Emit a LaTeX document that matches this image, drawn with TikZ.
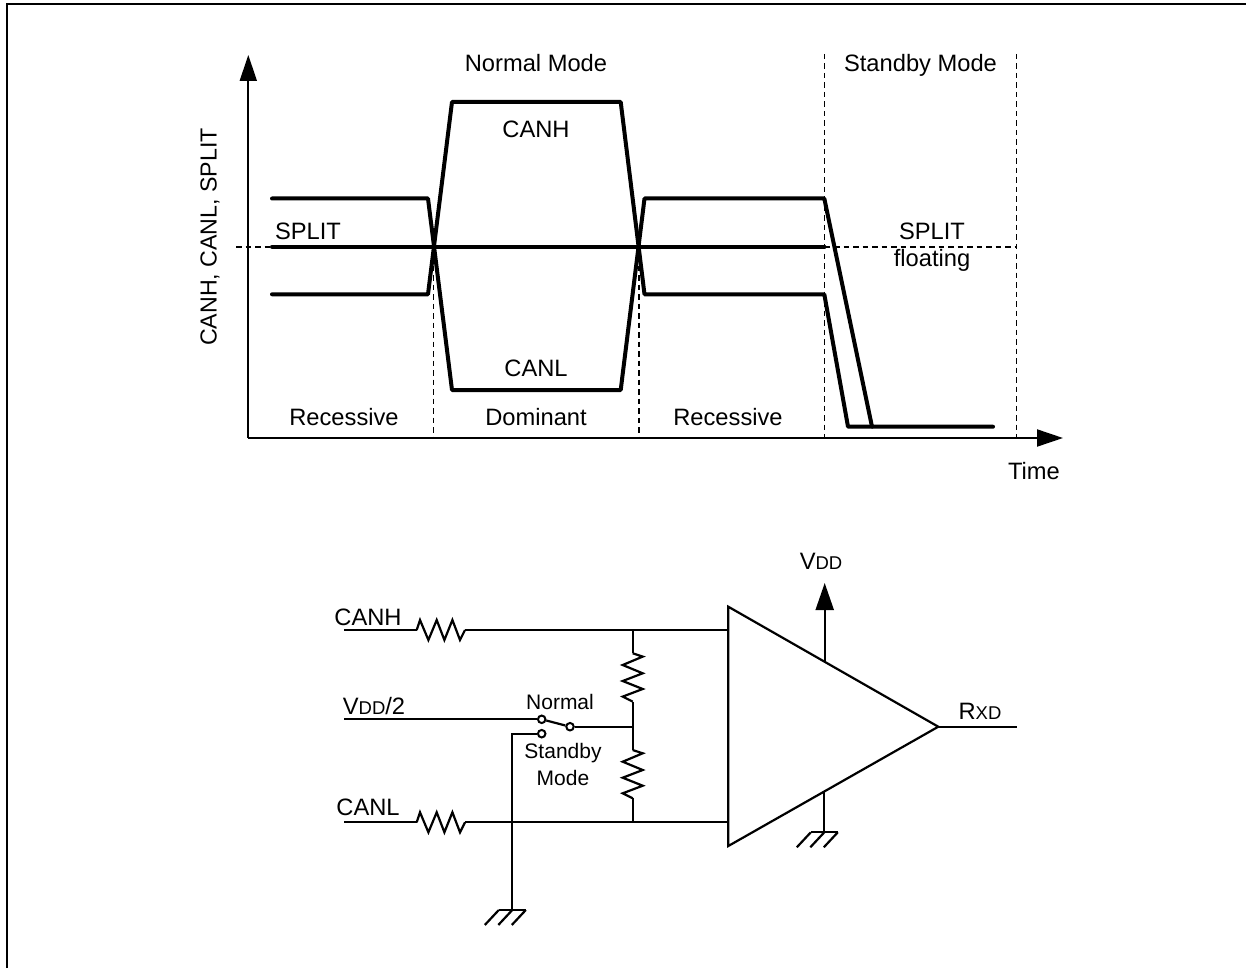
\documentclass[tikz,border=0pt]{standalone}
\usepackage{fontspec}
\setmainfont{Liberation Sans}
\usepackage{tikz}
\usetikzlibrary{arrows.meta}

\newcommand{\lbl}{\fontsize{23.7}{26}\selectfont}
\newcommand{\sml}{\fontsize{18.5}{20}\selectfont}
\newcommand{\swl}{\fontsize{21}{24}\selectfont}

\tikzset{
	txt/.style={inner sep=0pt,font=\lbl},
	swtxt/.style={inner sep=0pt,font=\swl},
	trace/.style={line width=4pt,line join=round,line cap=round},
	wire/.style={line width=2.2pt,line join=miter},
	guide/.style={line width=1.9pt,dash pattern=on 5.5pt off 4pt},
	axis/.style={line width=2pt,-{Triangle[length=26pt,width=17pt]}},
	contact/.style={circle,draw,fill=white,line width=2pt,minimum size=7.5pt,inner sep=0pt},
	pics/res/.style={code={
		\draw[wire] (0,0) -- (3.3,-10) -- (11.7,10) -- (20,-10) -- (27.7,10) -- (35.7,-10) -- (43.3,10) -- (48.3,0);
	}},
	pics/gnd/.style={code={
		\draw[wire] (-13.5,0) -- (13.5,0);
		\draw[wire] (-13.5,0) -- ++(-14,15);
		\draw[wire] (0,0) -- ++(-14,15);
		\draw[wire] (13.5,0) -- ++(-14,15);
	}}
}

\begin{document}
\begin{tikzpicture}[x=1pt,y=-1pt]
   		\useasboundingbox (0,0) rectangle (1246,968);
   		\coordinate (f_a) at (7,968);
   		\coordinate (f_b) at (7,4.3);
   		\coordinate (f_c) at (1246,4.3);
   		\draw[line width=2pt] (f_a) -- (f_b) -- (f_c);

   		\coordinate (o) at (248.3,438);
   		\coordinate (y_top) at (248.3,55);
   		\coordinate (x_end) at (1063,438);
   		\draw[axis] (o) -- (y_top);
   		\draw[axis] (o) -- (x_end);

   		\coordinate (g_a) at (433.5,246.7);
   		\coordinate (g_b) at (433.5,438);
   		\coordinate (g_c) at (639,246.7);
   		\coordinate (g_d) at (639,438);
   		\coordinate (g_e) at (824.5,54);
   		\coordinate (g_f) at (824.5,438);
   		\coordinate (g_g) at (1016.5,54);
   		\coordinate (g_h) at (1016.5,438);
   		\draw[guide] (g_a) -- (g_b);
   		\draw[guide] (g_c) -- (g_d);
   		\draw[guide] (g_e) -- (g_f);
   		\draw[guide] (g_g) -- (g_h);

   		\coordinate (s_0) at (236,246.7);
   		\coordinate (s_1) at (272,246.7);
   		\coordinate (s_2) at (824.5,246.7);
   		\coordinate (s_3) at (1016.5,246.7);
   		\draw[guide] (s_0) -- (s_1);
   		\draw[trace] (s_1) -- (s_2);
   		\draw[guide] (s_2) -- (s_3);

   		\coordinate (h_0) at (272,198.5);
   		\coordinate (h_1) at (428,198.5);
   		\coordinate (h_2) at (452,390);
   		\coordinate (h_3) at (620.7,390);
   		\coordinate (h_4) at (644.5,198.5);
   		\coordinate (h_5) at (824.3,198.5);
   		\coordinate (h_6) at (872,426.7);
   		\coordinate (h_7) at (993,426.7);
   		\draw[trace] (h_0) -- (h_1) -- (h_2) -- (h_3) -- (h_4) -- (h_5) -- (h_6) -- (h_7);

   		\coordinate (l_0) at (272,294.3);
   		\coordinate (l_1) at (428,294.3);
   		\coordinate (l_2) at (452,102);
   		\coordinate (l_3) at (620.7,102);
   		\coordinate (l_4) at (644.5,294.3);
   		\coordinate (l_5) at (824.3,294.3);
   		\coordinate (l_6) at (848,426.7);
   		\draw[trace] (l_0) -- (l_1) -- (l_2) -- (l_3) -- (l_4) -- (l_5) -- (l_6) -- (h_6);

   		\node[txt] (t_normal) at (536,63) {Normal Mode};
   		\node[txt] (t_standby) at (920.5,65) {Standby Mode};
   		\node[txt] (t_canh) at (536,129) {CANH};
   		\node[txt] (t_canl) at (536,368) {CANL};
   		\node[txt] (t_split) at (308,231) {SPLIT};
   		\node[txt] (t_splitf) at (932,231) {SPLIT};
   		\node[txt] (t_float) at (932,260) {floating};
   		\node[txt] (t_rec_a) at (344,417) {Recessive};
   		\node[txt] (t_dom) at (536,417) {Dominant};
   		\node[txt] (t_rec_b) at (728,417) {Recessive};
   		\node[txt] (t_time) at (1034,471) {Time};
   		\node[txt,rotate=90,font=\fontsize{23.2}{26}\selectfont] (t_yaxis) at (210,237) {CANH, CANL, SPLIT};

   		\coordinate (a_0) at (728.3,606.7);
   		\coordinate (a_1) at (728.3,846);
   		\coordinate (a_2) at (938.3,726.7);
   		\draw[wire] (a_0) -- (a_1) -- (a_2) -- cycle;

   		\coordinate (c_h) at (344,630);
   		\coordinate (r_1a) at (416.7,630);
   		\coordinate (r_1b) at (465,630);
   		\coordinate (j_h) at (632.7,630);
   		\coordinate (a_h) at (728.3,630);
   		\pic at (r_1a) {res};
   		\draw[wire] (c_h) -- (r_1a);
   		\draw[wire] (r_1b) -- (a_h);

   		\coordinate (c_l) at (344,822.3);
   		\coordinate (r_2a) at (416.7,822.3);
   		\coordinate (r_2b) at (465,822.3);
   		\coordinate (j_l) at (632.7,822.3);
   		\coordinate (a_l) at (728.3,822.3);
   		\pic at (r_2a) {res};
   		\draw[wire] (c_l) -- (r_2a);
   		\draw[wire] (r_2b) -- (a_l);

   		\coordinate (j_m) at (632.7,726.7);
   		\coordinate (r_3a) at (632.7,653.3);
   		\coordinate (r_3b) at (632.7,701.7);
   		\coordinate (r_4a) at (632.7,750);
   		\coordinate (r_4b) at (632.7,798.3);
   		\pic[rotate=-90] at (r_3a) {res};
   		\pic[rotate=-90] at (r_4a) {res};
   		\draw[wire] (j_h) -- (r_3a);
   		\draw[wire] (r_3b) -- (j_m);
   		\draw[wire] (j_m) -- (r_4a);
   		\draw[wire] (r_4b) -- (j_l);

   		\coordinate (c_v) at (344,719.3);
   		\coordinate (b_0) at (512.3,733.7);
   		\coordinate (g_0) at (512.3,910);
   		\node[contact] (k_n) at (541.7,719.3) {};
   		\node[contact] (k_s) at (541.7,733.7) {};
   		\node[contact] (k_c) at (570,726.7) {};
   		\draw[wire] (c_v) -- (k_n);
   		\draw[wire] (k_n) -- (k_c);
   		\draw[wire] (k_c) -- (j_m);
   		\draw[wire] (k_s) -- (b_0) -- (g_0);
   		\pic at (g_0) {gnd};

   		\coordinate (v_0) at (824.7,660.7);
   		\coordinate (v_1) at (824.7,583);
   		\coordinate (g_1a) at (824.3,791.7);
   		\coordinate (g_1) at (824.3,832.3);
   		\coordinate (o_1) at (1017,726.7);
   		\draw[wire,-{Triangle[length=27pt,width=18pt]}] (v_0) -- (v_1);
   		\draw[wire] (g_1a) -- (g_1);
   		\pic at (g_1) {gnd};
   		\draw[wire] (a_2) -- (o_1);

   		\node[txt] (t_ch) at (368,617) {CANH};
   		\node[txt] (t_cl) at (368,807) {CANL};
   		\node[txt] (t_vh) at (374,705.7) {V{\sml DD}/2};
   		\node[swtxt] (t_sw_n) at (560,702) {Normal};
   		\node[swtxt] (t_sw_s) at (563,753) {Standby};
   		\node[swtxt] (t_sw_m) at (563,778) {Mode};
   		\node[txt] (t_vdd) at (821,561) {V{\sml DD}};
   		\node[txt] (t_rxd) at (980,711) {R{\sml XD}};
 	\end{tikzpicture}
\end{document}
